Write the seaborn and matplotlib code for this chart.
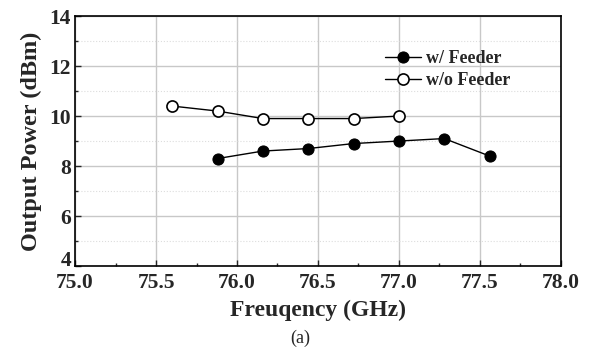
import matplotlib
matplotlib.use("Agg")
import matplotlib.pyplot as plt
import seaborn as sns
import pandas as pd
from matplotlib.ticker import MultipleLocator

freq_with = [75.88, 76.16, 76.44, 76.72, 77.00, 77.28, 77.56]
pow_with = [8.3, 8.6, 8.7, 8.9, 9.0, 9.1, 8.4]
freq_without = [75.60, 75.88, 76.16, 76.44, 76.72, 77.00]
pow_without = [10.4, 10.2, 9.9, 9.9, 9.9, 10.0]

sns.set_theme(style="white")
plt.rcParams['font.family'] = ['Liberation Serif', 'DejaVu Serif']
plt.rcParams['font.weight'] = 'bold'

df1 = pd.DataFrame({"f": freq_with, "p": pow_with})
df2 = pd.DataFrame({"f": freq_without, "p": pow_without})

fig = plt.figure(figsize=(5.91, 3.5), dpi=100)
ax = fig.add_axes([0.127, 0.24, 0.822, 0.714])

sns.lineplot(data=df1, x="f", y="p", ax=ax, color="black", marker="o", markersize=8,
             markerfacecolor="black", markeredgecolor="black", linewidth=1.0, label="w/ Feeder")
sns.lineplot(data=df2, x="f", y="p", ax=ax, color="black", marker="o", markersize=8,
             markerfacecolor="white", markeredgecolor="black", markeredgewidth=1.2, linewidth=1.0, label="w/o Feeder")

ax.set_xlim(75.0, 78.0)
ax.set_ylim(4, 14)
ax.xaxis.set_major_locator(MultipleLocator(0.5))
ax.xaxis.set_minor_locator(MultipleLocator(0.25))
ax.yaxis.set_major_locator(MultipleLocator(2))
ax.yaxis.set_minor_locator(MultipleLocator(1))
ax.xaxis.set_major_formatter(matplotlib.ticker.FormatStrFormatter('%.1f'))
ax.grid(True, which='major', color='#c8c8c8', linewidth=1.0, linestyle='-')
ax.grid(True, which='minor', axis='y', color='#dddddd', linewidth=0.8, linestyle=':')
ax.set_axisbelow(True)
ax.tick_params(which='major', direction='in', length=4, width=1, labelsize=15.5, pad=3,
               bottom=True, left=True)
ax.tick_params(axis='x', which='major', pad=5)
ax.tick_params(which='minor', direction='in', length=2.5, width=1, bottom=True, left=True)
for s in ax.spines.values():
    s.set_color('black')
    s.set_linewidth(1.2)

ax.set_xlabel("Freuqency (GHz)", fontsize=17, fontweight='bold', labelpad=5)
ax.set_ylabel("Output Power (dBm)", fontsize=17.5, fontweight='bold', labelpad=5)

leg = ax.legend(loc='upper right', bbox_to_anchor=(0.93, 0.93), frameon=False,
                prop={'size': 13, 'weight': 'bold'}, handlelength=2.0, handletextpad=0.3,
                labelspacing=0.3)

fig.canvas.draw()
for lab in ax.get_xticklabels() + ax.get_yticklabels():
    lab.set_fontweight('bold')
for lab in ax.get_yticklabels():
    if lab.get_text() == '4':
        lab.set_va('baseline')

fig.text(0.508, 0.008, "(a)", ha='center', va='bottom', fontsize=13, fontweight='normal')

fig.savefig("out.png", dpi=100)
